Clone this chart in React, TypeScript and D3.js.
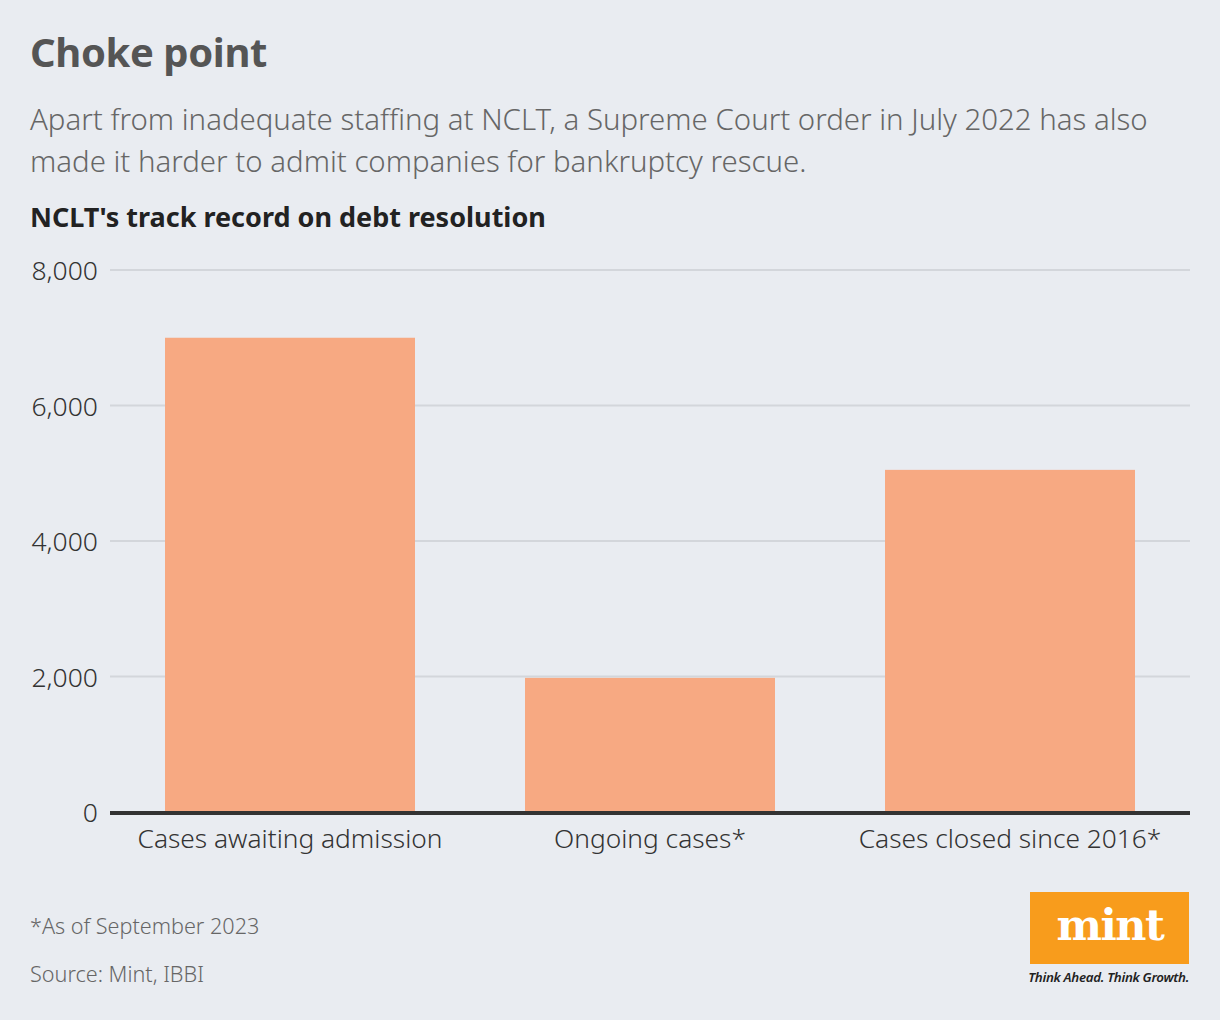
import React, { useEffect, useRef } from 'react';
import * as d3 from 'd3';

const categories = ['Cases awaiting admission', 'Ongoing cases*', 'Cases closed since 2016*'];
const values = [7000, 1980, 5050];
const yTicks = [0, 2000, 4000, 6000, 8000];

const title = 'Choke point';
const subtitleLines = [
  'Apart from inadequate staffing at NCLT, a Supreme Court order in July 2022 has also',
  'made it harder to admit companies for bankruptcy rescue.',
];
const chartHeading = "NCLT's track record on debt resolution";
const footnotes = ['*As of September 2023', 'Source: Mint, IBBI'];

const W = 1220;
const H = 1020;
const FONT = '"Noto Sans", "Open Sans", sans-serif';

const App: React.FC = () => {
  const svgRef = useRef<SVGSVGElement | null>(null);

  useEffect(() => {
    document.body.style.margin = '0';
    if (!svgRef.current) return;
    const svg = d3.select(svgRef.current);
    svg.selectAll('*').remove();

    svg.append('rect').attr('width', W).attr('height', H).attr('fill', '#e9ecf1');

    // Titles
    svg.append('text')
      .attr('x', 30).attr('y', 67)
      .attr('font-family', FONT).attr('font-weight', 700).attr('font-size', 40)
      .attr('letter-spacing', -0.4)
      .attr('fill', '#555555')
      .text(title);

    svg.selectAll('.sub')
      .data(subtitleLines)
      .enter()
      .append('text')
      .attr('class', 'sub')
      .attr('x', 30)
      .attr('y', (d, i) => 130 + i * 42)
      .attr('font-family', FONT).attr('font-weight', 300).attr('font-size', 29.4)
      .attr('fill', '#666666')
      .text(d => d);

    svg.append('text')
      .attr('x', 30).attr('y', 227)
      .attr('font-family', FONT).attr('font-weight', 700).attr('font-size', 27)
      .attr('letter-spacing', 0)
      .attr('fill', '#222222')
      .text(chartHeading);

    // Chart
    const left = 110;
    const right = 1190;
    const top = 270;
    const bottom = 812;

    const x = d3.scaleBand<string>()
      .domain(categories)
      .range([left, right])
      .paddingInner(110 / 360)
      .paddingOuter(55 / 360);

    const y = d3.scaleLinear().domain([0, 8000]).range([bottom, top]);

    const g = svg.append('g');

    g.selectAll('.grid')
      .data(yTicks.filter(t => t > 0))
      .enter()
      .append('line')
      .attr('x1', left).attr('x2', right)
      .attr('y1', d => y(d)).attr('y2', d => y(d))
      .attr('stroke', '#d3d6db').attr('stroke-width', 2);

    g.selectAll('.ytick')
      .data(yTicks)
      .enter()
      .append('text')
      .attr('x', 98)
      .attr('y', d => y(d) + 10)
      .attr('text-anchor', 'end')
      .attr('font-family', FONT).attr('font-weight', 300).attr('font-size', 26.5)
      .attr('fill', '#333333')
      .text(d => d3.format(',')(d));

    g.selectAll('.bar')
      .data(values)
      .enter()
      .append('rect')
      .attr('x', (d, i) => x(categories[i]) as number)
      .attr('width', x.bandwidth())
      .attr('y', d => y(d))
      .attr('height', d => y(0) - y(d))
      .attr('fill', '#f7a982');

    g.append('line')
      .attr('x1', left).attr('x2', right)
      .attr('y1', y(0) + 1).attr('y2', y(0) + 1)
      .attr('stroke', '#333333').attr('stroke-width', 4);

    g.selectAll('.xlab')
      .data(categories)
      .enter()
      .append('text')
      .attr('x', d => (x(d) as number) + x.bandwidth() / 2)
      .attr('y', 848)
      .attr('text-anchor', 'middle')
      .attr('font-family', FONT).attr('font-weight', 300).attr('font-size', 26.3)
      .attr('fill', '#333333')
      .text(d => d);

    // Footnotes
    svg.selectAll('.foot')
      .data(footnotes)
      .enter()
      .append('text')
      .attr('x', 30)
      .attr('y', (d, i) => 934 + i * 48)
      .attr('font-family', FONT).attr('font-weight', 300).attr('font-size', 21.6)
      .attr('fill', '#666666')
      .text(d => d);

    // Logo
    svg.append('rect')
      .attr('x', 1030).attr('y', 892).attr('width', 159).attr('height', 72)
      .attr('fill', '#f89c1c');
    svg.append('text')
      .attr('x', 1110).attr('y', 940)
      .attr('text-anchor', 'middle')
      .attr('font-family', '"DejaVu Serif", "Liberation Serif", serif')
      .attr('font-weight', 700).attr('font-size', 43)
      .attr('letter-spacing', -1.5)
      .attr('fill', '#ffffff')
      .text('mint');
    svg.append('text')
      .attr('x', 1189).attr('y', 982)
      .attr('text-anchor', 'end')
      .attr('font-family', FONT).attr('font-style', 'italic').attr('font-weight', 600)
      .attr('font-size', 13.3)
      .attr('letter-spacing', -0.3)
      .attr('fill', '#222222')
      .text('Think Ahead. Think Growth.');
  }, []);

  return <svg ref={svgRef} width={W} height={H} style={{ display: 'block' }} />;
};

export default App;
